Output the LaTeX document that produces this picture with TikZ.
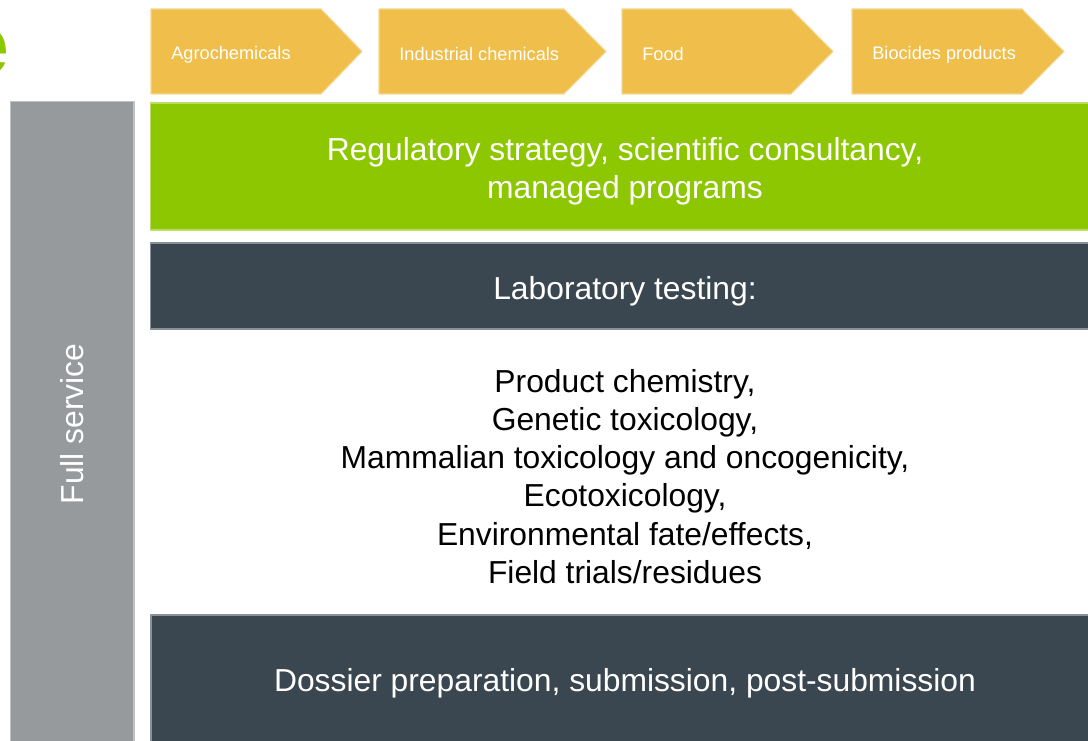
\documentclass[tikz,border=0pt]{standalone}
\usepackage{tkz-euclide}
\usepackage{fontspec}
\setmainfont{Liberation Sans}

\definecolor{chevronfill}{HTML}{F0BE4A}
\definecolor{leafgreen}{HTML}{8DC702}
\definecolor{slatedark}{HTML}{3B4750}
\definecolor{sidegray}{HTML}{969A9D}

\tikzset{
	chevtext/.style={anchor=west,text=white,font=\fontsize{10.35}{12}\selectfont,inner sep=0pt},
	bandtext/.style={align=center,text=white,font=\fontsize{18.1}{21.6}\selectfont},
}

\begin{document}
\begin{tikzpicture}
	\useasboundingbox (0,0) rectangle (21.76,-14.82);
	
	% side bar
	\tkzDefPoint(0.21,-2.03){S1}
	\tkzDefPoint(2.68,-2.03){S2}
	\tkzDefPoint(2.68,-15.2){S3}
	\tkzDefPoint(0.21,-15.2){S4}
	\tkzDrawPolygon[color=sidegray!60!white,fill=sidegray,line width=0.6pt](S1,S2,S3,S4)
	
	% green band
	\tkzDefPoint(3.01,-2.06){G1}
	\tkzDefPoint(22.0,-2.06){G2}
	\tkzDefPoint(22.0,-4.60){G3}
	\tkzDefPoint(3.01,-4.60){G4}
	\tkzDrawPolygon[color=leafgreen!60!white,fill=leafgreen,line width=0.6pt](G1,G2,G3,G4)
	
	% dark bands
	\tkzDefPoint(3.01,-4.86){L1}
	\tkzDefPoint(22.0,-4.86){L2}
	\tkzDefPoint(22.0,-6.58){L3}
	\tkzDefPoint(3.01,-6.58){L4}
	\tkzDrawPolygon[color=slatedark!60!white,fill=slatedark,line width=0.6pt](L1,L2,L3,L4)
	
	\tkzDefPoint(3.02,-12.30){D1}
	\tkzDefPoint(22.0,-12.30){D2}
	\tkzDefPoint(22.0,-15.2){D3}
	\tkzDefPoint(3.02,-15.2){D4}
	\tkzDrawPolygon[color=slatedark!60!white,fill=slatedark,line width=0.6pt](D1,D2,D3,D4)
	
	% chevrons
	\foreach \l/\s/\t [count=\i] in {3.02/6.42/7.24,7.58/11.28/12.12,12.44/15.82/16.66,17.04/20.44/21.28}{
		\tkzDefPoint(\l,-0.18){A\i}
		\tkzDefPoint(\s,-0.18){B\i}
		\tkzDefPoint(\t,-1.03){C\i}
		\tkzDefPoint(\s,-1.88){D\i}
		\tkzDefPoint(\l,-1.88){E\i}
		\tkzDrawPolygon[color=chevronfill!60!white,fill=chevronfill,line width=0.6pt](A\i,B\i,C\i,D\i,E\i)
	}
	
	\node[chevtext] (agro) at (3.42,-1.09) {Agrochemicals};
	\node[chevtext] (indus) at (7.98,-1.09) {Industrial chemicals};
	\node[chevtext] (food) at (12.84,-1.09) {Food};
	\node[chevtext] (bioc) at (17.44,-1.09) {Biocides products};
	
	% texts
	\node[text=leafgreen,anchor=east,inner sep=0pt,font=\bfseries\fontsize{49}{50}\selectfont] (logo) at (0.19,-1.04) {e};
	\node[rotate=90,text=white,font=\fontsize{18.1}{21}\selectfont] (full) at (1.44,-8.48) {Full service};
	\node[bandtext] (strategy) at (12.50,-3.42) {Regulatory strategy, scientific consultancy,\\managed programs};
	\node[bandtext] (lab) at (12.50,-5.82) {Laboratory testing:};
	\node[bandtext,text=black,font=\fontsize{18.1}{21.75}\selectfont] (tests) at (12.50,-9.53) {Product chemistry,\\Genetic toxicology,\\Mammalian toxicology and oncogenicity,\\Ecotoxicology,\\Environmental fate/effects,\\Field trials/residues};
	\node[bandtext] (dossier) at (12.50,-13.66) {Dossier preparation, submission, post-submission};
\end{tikzpicture}
\end{document}
